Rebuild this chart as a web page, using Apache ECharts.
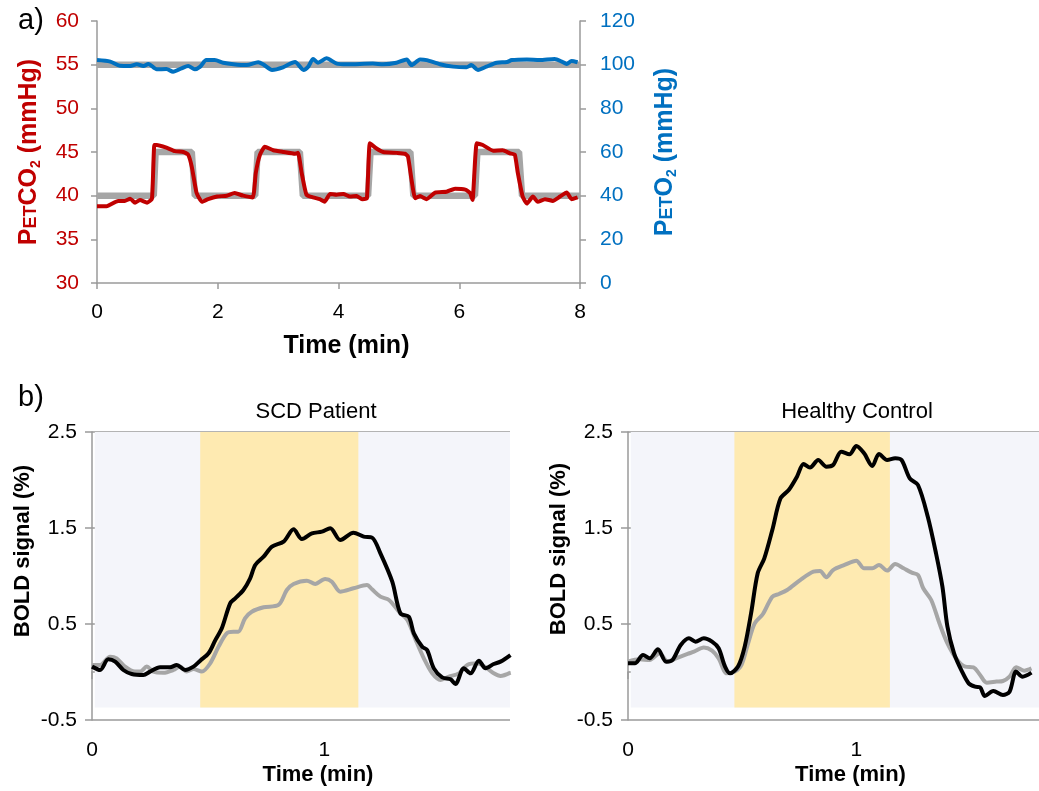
<!DOCTYPE html>
<html>
<head>
<meta charset="utf-8">
<script src="https://cdn.jsdelivr.net/npm/echarts@6/dist/echarts.min.js"></script>
<style>
  html, body { margin: 0; padding: 0; background: #fff; }
  #chart { width: 1039px; height: 791px; }
</style>
</head>
<body>
<div id="chart"></div>
<script>
// ---- panel a) end-tidal gases ----
const co2TargetT = [0, 0.94, 0.97, 1.57, 1.62, 2.62, 2.66, 3.36, 3.41, 4.49, 4.53, 5.19, 5.24, 6.26, 6.3, 6.99, 7.04, 8];
const co2TargetV = [40, 40, 45, 45, 40, 40, 45, 45, 40, 40, 45, 45, 40, 40, 45, 45, 40, 40];
const o2TargetT = [0, 8];
const o2TargetV = [100, 100];

const co2T = [0,0.16,0.35,0.46,0.55,0.63,0.71,0.83,0.91,0.95,0.99,1.15,1.29,1.43,1.51,1.57,1.65,1.74,1.84,1.99,2.15,2.28,2.42,2.58,2.63,2.7,2.78,2.92,3.09,3.28,3.33,3.39,3.47,3.58,3.69,3.77,3.86,3.97,4.08,4.19,4.3,4.39,4.47,4.52,4.63,4.74,4.97,5.1,5.15,5.21,5.27,5.35,5.46,5.6,5.79,5.93,6.1,6.18,6.22,6.29,6.39,6.56,6.72,6.84,6.92,6.97,7.05,7.12,7.22,7.3,7.42,7.55,7.67,7.78,7.86,7.96];
const co2V = [38.8,38.8,39.4,39.4,39.65,39.2,39.5,39.2,39.65,45.8,45.8,45.5,45.1,45.0,44.7,43.3,40.3,39.3,39.6,39.9,40.0,40.3,40.0,39.8,42.6,44.7,45.6,45.2,45.0,44.8,44.9,42.6,40.1,39.8,39.6,39.3,40.2,40.1,40.2,39.9,39.95,39.6,39.7,46.0,45.4,45.0,44.9,44.8,44.5,41.8,39.7,39.95,39.6,40.35,40.45,40.8,40.7,40.3,39.5,46.0,45.8,45.15,45.2,44.85,44.7,42.6,39.9,39.1,39.9,39.3,39.6,39.4,39.9,40.35,39.6,39.8];

const o2T = [0,0.22,0.38,0.55,0.66,0.77,0.85,0.99,1.15,1.26,1.4,1.51,1.62,1.71,1.81,1.95,2.09,2.26,2.48,2.67,2.75,2.9,3.08,3.28,3.42,3.5,3.58,3.66,3.8,3.97,4.14,4.57,4.74,4.96,5.13,5.21,5.35,5.46,5.68,5.9,6.12,6.2,6.31,6.45,6.62,6.79,6.87,7.12,7.33,7.58,7.7,7.78,7.86,7.96];
const o2V = [102.1,101.4,99.5,99.4,100.2,99.4,100.3,97.9,98.0,96.8,98.3,99.4,97.9,99.1,102.1,102.1,100.9,100.2,99.8,101.1,100.2,97.6,98.8,101.2,97.6,99.1,102.6,100.9,102.9,100.5,100.2,100.5,100.2,100.9,102.4,99.8,102.4,102.1,100.2,99.1,98.8,99.8,97.6,99.1,100.9,101.2,102.1,102.4,102.1,102.6,101.4,100.3,101.7,101.1];

// ---- panel b) BOLD responses ----
const stimStart = 0.466, stimEnd = 1.147;   // yellow block (min)
const bgX = [0.012, 1.82], bgY = [-0.37, 2.54]; // light background block

const scdBlackT = [0,0.035,0.07,0.1,0.135,0.171,0.221,0.25,0.293,0.336,0.365,0.401,0.437,0.466,0.502,0.53,0.559,0.595,0.617,0.652,0.681,0.703,0.739,0.775,0.825,0.868,0.904,0.947,0.99,1.026,1.069,1.126,1.17,1.206,1.242,1.293,1.328,1.364,1.386,1.422,1.443,1.472,1.508,1.544,1.565,1.601,1.63,1.666,1.695,1.73,1.759,1.802];
const scdBlackV = [0.056,0.021,0.132,0.108,0.021,-0.021,-0.031,0.004,0.049,0.049,0.073,0.021,0.056,0.118,0.195,0.327,0.455,0.715,0.767,0.854,0.976,1.115,1.201,1.306,1.358,1.486,1.385,1.444,1.462,1.497,1.375,1.451,1.41,1.4,1.236,0.941,0.611,0.576,0.403,0.264,0.229,0.038,-0.056,-0.076,-0.125,0.038,-0.014,0.118,0.038,0.083,0.108,0.177];
const scdGrayT = [0,0.035,0.078,0.106,0.142,0.185,0.207,0.236,0.264,0.307,0.351,0.379,0.408,0.437,0.473,0.509,0.545,0.58,0.609,0.63,0.659,0.688,0.739,0.803,0.839,0.868,0.925,0.961,1.004,1.033,1.069,1.126,1.184,1.206,1.242,1.279,1.322,1.358,1.394,1.429,1.465,1.501,1.537,1.58,1.616,1.659,1.695,1.73,1.759,1.802];
const scdGrayV = [0.073,0.073,0.16,0.142,0.056,0.004,0.004,0.056,0.004,-0.007,0.021,0.056,0.004,0.031,0.004,0.09,0.264,0.403,0.42,0.42,0.559,0.628,0.674,0.698,0.854,0.917,0.951,0.917,0.969,0.941,0.837,0.872,0.906,0.861,0.785,0.75,0.628,0.542,0.333,0.142,-0.014,-0.083,-0.049,-0.014,0.073,0.09,0.049,-0.014,-0.042,-0.007];

const hcBlackT = [0,0.03,0.066,0.095,0.131,0.167,0.195,0.231,0.267,0.296,0.332,0.368,0.397,0.425,0.447,0.483,0.511,0.539,0.568,0.597,0.632,0.668,0.704,0.74,0.769,0.797,0.833,0.869,0.898,0.934,0.97,1.0,1.034,1.07,1.099,1.135,1.17,1.198,1.234,1.27,1.313,1.349,1.377,1.399,1.428,1.463,1.492,1.52,1.542,1.563,1.6,1.642,1.671,1.7,1.728,1.767];
const hcBlackV = [0.09,0.09,0.177,0.142,0.236,0.108,0.125,0.281,0.351,0.316,0.351,0.316,0.247,0.056,-0.014,0.063,0.264,0.611,1.028,1.184,1.479,1.809,1.896,2.035,2.167,2.129,2.208,2.139,2.156,2.295,2.267,2.354,2.278,2.146,2.271,2.208,2.226,2.208,2.017,1.948,1.618,1.236,0.889,0.472,0.195,0.004,-0.118,-0.153,-0.16,-0.25,-0.198,-0.24,-0.205,0.004,-0.049,-0.007];
const hcGrayT = [0,0.05,0.095,0.138,0.174,0.21,0.261,0.289,0.332,0.368,0.397,0.433,0.468,0.497,0.526,0.555,0.591,0.632,0.661,0.697,0.754,0.812,0.841,0.869,0.898,0.948,1.0,1.034,1.07,1.099,1.135,1.17,1.207,1.243,1.27,1.293,1.328,1.364,1.399,1.442,1.477,1.513,1.542,1.571,1.614,1.642,1.671,1.7,1.735,1.767];
const hcGrayV = [0.108,0.132,0.125,0.195,0.108,0.142,0.188,0.212,0.254,0.222,0.142,-0.014,0.004,0.073,0.299,0.507,0.604,0.785,0.813,0.854,0.958,1.045,1.052,0.986,1.062,1.115,1.16,1.08,1.08,1.115,1.056,1.125,1.08,1.035,1.01,0.872,0.75,0.507,0.299,0.125,0.056,0.049,-0.031,-0.111,-0.1,-0.094,-0.049,0.049,0.014,0.038];

const FONT = "'Liberation Sans', Arial, Helvetica, sans-serif";
const RED = '#c00000', BLUE = '#0070c0', GREY = '#a6a6a6', AXIS = '#9a9a9a';

const zip = (t, v) => t.map((x, i) => [x, v[i]]);

const myChart = echarts.init(document.getElementById('chart'), null, { renderer: 'canvas' });

function boldAxisName(size) {
  return {
    fontFamily: FONT, fontWeight: 'bold', fontSize: size, color: '#000'
  };
}

// P(ET)CO2 style name: small caps "ET" and subscript "2"
function gasName(color) {
  return {
    color: color,
    fontFamily: FONT,
    rich: {
      b: { fontSize: 25, fontWeight: 'bold', color: color, fontFamily: FONT, lineHeight: 28 },
      s: { fontSize: 18, fontWeight: 'bold', color: color, fontFamily: FONT, verticalAlign: 'bottom', padding: [0, 0, 3, 0] },
      sub: { fontSize: 14, fontWeight: 'bold', color: color, fontFamily: FONT, lineHeight: 13, verticalAlign: 'bottom' }
    }
  };
}

const boldAxisY = (gridIndex, padShift) => ({
  type: 'value', gridIndex: gridIndex, min: -0.5, max: 2.5, interval: 1,
  name: 'BOLD signal (%)', nameLocation: 'middle', nameRotate: 90, nameGap: 58,
  nameTextStyle: Object.assign(boldAxisName(22), { padding: [0, 0, 0, padShift] }),
  axisLine: { show: true, lineStyle: { color: AXIS, width: 1.5 } },
  axisTick: { show: true, length: 7, lineStyle: { color: AXIS, width: 1.5 } },
  axisLabel: { fontFamily: FONT, fontSize: 21, color: '#000', margin: 15,
    formatter: v => String(v) },
  splitLine: { show: true, lineStyle: { color: AXIS, width: 1.5 } }
});

const boldAxisX = (gridIndex) => ({
  type: 'value', gridIndex: gridIndex, min: 0, max: 1.8,
  name: 'Time (min)', nameLocation: 'middle', nameGap: 44,
  nameTextStyle: Object.assign(boldAxisName(22), { padding: [0, 0, 0, 34] }),
  axisLine: { show: true, lineStyle: { color: AXIS, width: 1.5 } },
  axisTick: { show: true, length: 7, customValues: [0, 1], lineStyle: { color: AXIS, width: 1.5 } },
  axisLabel: { fontFamily: FONT, fontSize: 21, color: '#000', margin: 20, customValues: [0, 1] },
  splitLine: { show: false }
});

const shading = {
  silent: true,
  data: [
    [{ coord: [bgX[0], bgY[0]], itemStyle: { color: '#f4f5fa' } }, { coord: [bgX[1], bgY[1]] }],
    [{ coord: [stimStart, bgY[0]], itemStyle: { color: '#feeab1' } }, { coord: [stimEnd, bgY[1]] }]
  ]
};

const option = {
  animation: false,
  backgroundColor: '#fff',
  title: [
    { text: 'a)', left: 13, top: 1, textStyle: { fontFamily: FONT, fontSize: 29, fontWeight: 'normal', color: '#000' } },
    { text: 'b)', left: 13, top: 378, textStyle: { fontFamily: FONT, fontSize: 29, fontWeight: 'normal', color: '#000' } },
    { text: 'SCD Patient', left: 311, top: 396, textAlign: 'center', textStyle: { fontFamily: FONT, fontSize: 22, fontWeight: 'normal', color: '#000' } },
    { text: 'Healthy Control', left: 852, top: 396, textAlign: 'center', textStyle: { fontFamily: FONT, fontSize: 22, fontWeight: 'normal', color: '#000' } }
  ],
  grid: [
    { left: 97, top: 21, width: 483, height: 262 },
    { left: 92, top: 432, width: 418, height: 288 },
    { left: 628, top: 432, width: 418, height: 288 }
  ],
  xAxis: [
    {
      type: 'value', gridIndex: 0, min: 0, max: 8, interval: 2,
      name: 'Time (min)', nameLocation: 'middle', nameGap: 51,
      nameTextStyle: Object.assign(boldAxisName(25), { padding: [0, 0, 0, 16] }),
      axisLine: { show: true, lineStyle: { color: AXIS, width: 1.5 } },
      axisTick: { show: true, length: 6, lineStyle: { color: AXIS, width: 1.5 } },
      axisLabel: { fontFamily: FONT, fontSize: 21, color: '#000', margin: 19 },
      splitLine: { show: false }
    },
    boldAxisX(1),
    boldAxisX(2)
  ],
  yAxis: [
    {
      type: 'value', gridIndex: 0, min: 30, max: 60, interval: 5, position: 'left',
      name: '{b|P}{s|ET}{b|CO}{sub|2}{b| (mmHg)}', nameLocation: 'middle', nameRotate: 90, nameGap: 54,
      nameTextStyle: gasName(RED),
      axisLine: { show: true, lineStyle: { color: AXIS, width: 1.5 } },
      axisTick: { show: true, length: 6, lineStyle: { color: AXIS, width: 1.5 } },
      axisLabel: { fontFamily: FONT, fontSize: 21, color: RED, margin: 18 },
      splitLine: { show: false }
    },
    {
      type: 'value', gridIndex: 0, min: 0, max: 120, interval: 20, position: 'right',
      name: '{b|P}{s|ET}{b|O}{sub|2}{b| (mmHg)}', nameLocation: 'middle', nameRotate: 90, nameGap: 71,
      nameTextStyle: gasName(BLUE),
      axisLine: { show: true, lineStyle: { color: AXIS, width: 1.5 } },
      axisTick: { show: true, length: 6, lineStyle: { color: AXIS, width: 1.5 } },
      axisLabel: { fontFamily: FONT, fontSize: 21, color: BLUE, margin: 20 },
      splitLine: { show: false }
    },
    boldAxisY(1, 50),
    boldAxisY(2, 54)
  ],
  series: [
    // panel a
    { type: 'line', xAxisIndex: 0, yAxisIndex: 0, data: zip(co2TargetT, co2TargetV), showSymbol: false,
      lineStyle: { color: GREY, width: 6.5 }, z: 1 },
    { type: 'line', xAxisIndex: 0, yAxisIndex: 1, data: zip(o2TargetT, o2TargetV), showSymbol: false,
      lineStyle: { color: GREY, width: 6.5 }, z: 1 },
    { type: 'line', xAxisIndex: 0, yAxisIndex: 1, data: zip(o2T, o2V), showSymbol: false, smooth: 0.25,
      lineStyle: { color: BLUE, width: 4 }, z: 2 },
    { type: 'line', xAxisIndex: 0, yAxisIndex: 0, data: zip(co2T, co2V), showSymbol: false, smooth: 0.15,
      lineStyle: { color: RED, width: 4 }, z: 3 },
    // panel b, SCD patient
    { type: 'line', xAxisIndex: 1, yAxisIndex: 2, data: zip(scdGrayT, scdGrayV), showSymbol: false, smooth: 0.3,
      lineStyle: { color: GREY, width: 4 }, markArea: shading, z: 2 },
    { type: 'line', xAxisIndex: 1, yAxisIndex: 2, data: zip(scdBlackT, scdBlackV), showSymbol: false, smooth: 0.3,
      lineStyle: { color: '#000', width: 4 }, z: 3 },
    // panel b, healthy control
    { type: 'line', xAxisIndex: 2, yAxisIndex: 3, data: zip(hcGrayT, hcGrayV), showSymbol: false, smooth: 0.3,
      lineStyle: { color: GREY, width: 4 }, markArea: shading, z: 2 },
    { type: 'line', xAxisIndex: 2, yAxisIndex: 3, data: zip(hcBlackT, hcBlackV), showSymbol: false, smooth: 0.3,
      lineStyle: { color: '#000', width: 4 }, z: 3 }
  ]
};

myChart.setOption(option);
</script>
</body>
</html>
